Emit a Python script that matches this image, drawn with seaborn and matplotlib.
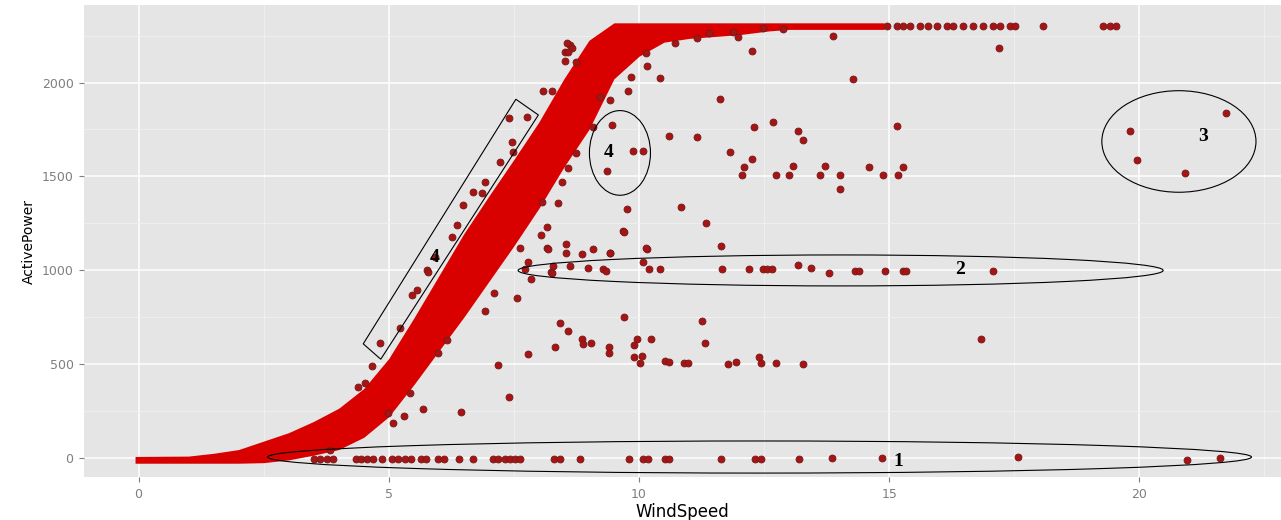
import numpy as np
import pandas as pd
import seaborn as sns
import matplotlib.pyplot as plt
from matplotlib.patches import Ellipse, Polygon

# ---------------- data ----------------
# dense core of the power curve (visible lower / upper extent of the point cloud)
band_x = [-0.07, 1.0, 1.5, 2.0, 2.5, 3.0, 3.5, 4.0, 4.5, 5.0, 5.5, 6.0, 6.5, 7.0,
          7.5, 8.0, 8.5, 9.0, 9.5, 10.0, 10.5, 11.0, 12.0, 12.6, 13.0, 14.9]
band_lo = [-28, -28, -28, -28, -25, -10, 15, 45, 110, 220, 390, 570, 750, 940,
           1130, 1330, 1550, 1750, 2020, 2140, 2215, 2235, 2255, 2275, 2283, 2283]
band_hi = [8, 10, 25, 45, 90, 135, 195, 265, 370, 530, 745, 970, 1195, 1395,
           1590, 1790, 2020, 2225, 2318, 2318, 2318, 2318, 2318, 2318, 2318, 2318]

# points scattered around the edges of the dense curve
halo_ws = [7.41, 7.76, 8.09, 8.26, 8.52, 8.62, 8.52, 8.75, 7.49, 7.46, 7.22, 6.92,
           6.69, 6.36, 6.26, 5.92, 5.76, 5.56, 6.49, 6.86, 5.79, 5.46, 5.22, 4.66,
           4.39, 4.52, 4.83, 8.56, 8.66, 8.59,
           9.09, 8.75, 8.59, 8.46, 8.39, 8.16, 8.16, 7.62, 7.79, 8.06, 7.10, 6.92,
           6.16, 5.99, 5.42, 4.99, 10.72, 11.15, 11.40, 11.88, 11.98, 12.48, 12.88,
           10.15, 9.85, 9.42, 9.22]
halo_pw = [1810, 1815, 1957, 1957, 2165, 2200, 2117, 2112, 1632, 1685, 1579, 1472,
           1419, 1241, 1179, 1072, 1002, 895, 1348, 1410, 993, 868, 691, 492,
           380, 398, 611, 2209, 2183, 2165,
           1765, 1623, 1543, 1472, 1357, 1232, 1119, 1119, 1046, 1366, 881, 785,
           629, 561, 345, 238, 2213, 2239, 2264, 2271, 2245, 2291, 2284,
           2158, 2031, 1907, 1925]

# points stuck at rated power
cap_ws = [14.95, 15.15, 15.28, 15.41, 15.61, 15.78, 15.95, 16.15, 16.28, 16.48,
          16.68, 16.88, 17.08, 17.21, 17.41, 17.51, 18.08, 19.27, 19.41, 19.54]
cap_pw = [2300, 2300, 2300, 2300, 2300, 2300, 2300, 2300, 2300, 2300,
          2300, 2300, 2300, 2300, 2300, 2300, 2300, 2300, 2300, 2300]

# points at zero power (region 1)
zero_ws = [3.51, 3.63, 3.76, 3.88, 4.34, 4.45, 4.57, 4.68, 4.87, 5.06, 5.18, 5.33,
           5.44, 5.64, 5.74, 5.98, 6.10, 6.40, 6.68, 7.09, 7.19, 7.33, 7.43, 7.53,
           7.62, 8.31, 8.43, 8.83, 9.80, 10.09, 10.18, 10.52, 10.61, 11.63, 12.32,
           12.43, 13.20, 13.86, 14.85, 17.58, 20.95, 21.61, 3.83]
zero_pw = [-8, -8, -8, -8, -8, -8, -8, -8, -8, -8, -8, -8,
           -8, -8, -8, -8, -8, -8, -8, -8, -8, -8, -8, -8,
           -8, -8, -8, -8, -5, -5, -5, -5, -5, -4, -4,
           -4, -4, 2, 2, 4, -11, -2, 43]

# other outliers (regions 2, 3, 4 and the rest)
out_ws = [9.46, 9.88, 10.08, 9.36,
          9.78, 11.62, 12.26, 13.87, 14.27, 17.20, 10.42, 10.16,
          10.60, 11.16, 12.30, 12.68, 13.18, 13.28, 15.15,
          11.82, 12.25, 12.10, 12.06, 12.74, 13.00, 13.08, 13.62, 13.72, 14.02, 14.02,
          14.60, 14.88, 15.18, 15.28,
          9.76, 10.84, 9.68, 11.34, 9.42, 10.16, 11.64, 10.08,
          7.72, 8.25, 8.29, 8.62, 8.98, 9.29, 9.34, 10.21, 10.43, 11.66, 12.20, 12.47,
          12.56, 12.65, 13.17, 13.44, 13.80, 14.32, 14.39, 14.91, 15.27, 15.34, 17.07,
          8.04, 8.54, 8.54, 8.18, 8.87, 9.08, 9.42, 9.70, 10.14, 7.84, 7.56, 8.26,
          9.70, 11.26, 8.43, 8.58, 8.86, 8.89, 9.05, 8.32, 9.40, 9.40, 7.78, 9.97,
          10.24, 9.90, 9.90, 10.06, 10.03, 11.32, 10.52, 10.61, 10.90, 10.97, 11.77,
          11.93, 12.40, 12.44, 12.74, 13.27, 16.83,
          7.18, 7.40, 6.44, 5.68, 5.30, 5.09,
          21.74, 19.82, 19.96, 20.91]
out_pw = [1774, 1636, 1636, 1529,
          1955, 1912, 2168, 2248, 2019, 2184, 2025, 2088,
          1715, 1710, 1763, 1790, 1742, 1694, 1769,
          1630, 1593, 1550, 1508, 1508, 1508, 1556, 1508, 1556, 1508, 1433,
          1550, 1508, 1508, 1550,
          1327, 1337, 1209, 1252, 1092, 1114, 1129, 1044,
          1005, 993, 1023, 1023, 1011, 1005, 998, 1005, 1005, 1005, 1005, 1005,
          1005, 1005, 1028, 1011, 984, 998, 998, 998, 998, 998, 998,
          1188, 1140, 1092, 1113, 1087, 1113, 1092, 1204, 1119, 954, 852, 984,
          751, 730, 719, 677, 634, 607, 612, 591, 591, 559, 555, 634,
          634, 602, 538, 543, 506, 612, 517, 511, 506, 506, 501,
          511, 538, 506, 506, 501, 634,
          495, 325, 245, 261, 224, 186,
          1840, 1742, 1588, 1517]

x_ticks = [0, 5, 10, 15, 20]
y_ticks = [0, 500, 1000, 1500, 2000]

# ---------------- figure ----------------
sns.set_theme(style="darkgrid")
plt.rcParams['font.family'] = ['DejaVu Sans']

W, H = 1281, 520
fig = plt.figure(figsize=(W / 100, H / 100), dpi=100)
left_px, right_px, top_px, bot_px = 84, 1281, 5, 477.3
ax = fig.add_axes([left_px / W, 1 - bot_px / H, (right_px - left_px) / W, (bot_px - top_px) / H])

ax.set_facecolor('#E5E5E5')
for s in ax.spines.values():
    s.set_visible(False)

pts = pd.DataFrame({
    'WindSpeed': halo_ws + cap_ws + zero_ws + out_ws,
    'ActivePower': halo_pw + cap_pw + zero_pw + out_pw,
})

red_fill = '#D90000'
ax.fill_between(band_x, band_lo, band_hi, color=red_fill, linewidth=0, zorder=2)
sns.scatterplot(data=pts, x='WindSpeed', y='ActivePower', ax=ax, s=24,
                color='#A81414', edgecolor='#7A1A1A', linewidth=0.7, zorder=3)

ax.set_xlim(-1.09, 22.83)
ax.set_ylim(-103, 2413)
ax.set_xticks(x_ticks)
ax.set_yticks(y_ticks)
ax.set_xticks([2.5, 7.5, 12.5, 17.5, 22.5], minor=True)
ax.set_yticks([250, 750, 1250, 1750, 2250], minor=True)
ax.grid(which='major', color='white', linewidth=1.1, zorder=0)
ax.grid(which='minor', color='#F2F2F2', linewidth=0.5, zorder=0)
ax.set_axisbelow(True)
ax.tick_params(which='major', length=3.5, width=0.8, color='#7F7F7F',
               labelcolor='#7F7F7F', labelsize=9, pad=4, bottom=True, left=True)
ax.tick_params(which='minor', length=0)

ax.set_xlabel('WindSpeed', fontsize=12, color='black')
ax.set_ylabel('ActivePower', fontsize=10, color='black')
ax.xaxis.set_label_coords(0.5, -0.055)
ax.yaxis.set_label_coords(-0.040, 0.5)

# ---------------- annotations ----------------
ann_kw = dict(fill=False, edgecolor='black', linewidth=0.8, zorder=5)
ax.add_patch(Ellipse((12.41, 5), 19.66, 171, **ann_kw))
ax.add_patch(Ellipse((14.03, 999), 12.89, 165, **ann_kw))
ax.add_patch(Ellipse((20.79, 1686), 3.08, 541, **ann_kw))
ax.add_patch(Ellipse((9.62, 1625), 1.22, 451, **ann_kw))
ax.add_patch(Polygon([(7.54, 1911), (7.99, 1827), (4.84, 526), (4.49, 608)],
                     closed=True, **ann_kw))

num_kw = dict(fontsize=14, fontweight='bold', family=['Liberation Serif', 'DejaVu Serif'],
              ha='center', va='center', color='black', zorder=6)
ax.text(15.18, -20, '1', **num_kw)
ax.text(16.41, 1005, '2', **num_kw)
ax.text(21.27, 1712, '3', **num_kw)
ax.text(9.39, 1627, '4', **num_kw)
ax.text(5.92, 1070, '4', **num_kw)

fig.savefig('out.png', dpi=100, facecolor='white')
